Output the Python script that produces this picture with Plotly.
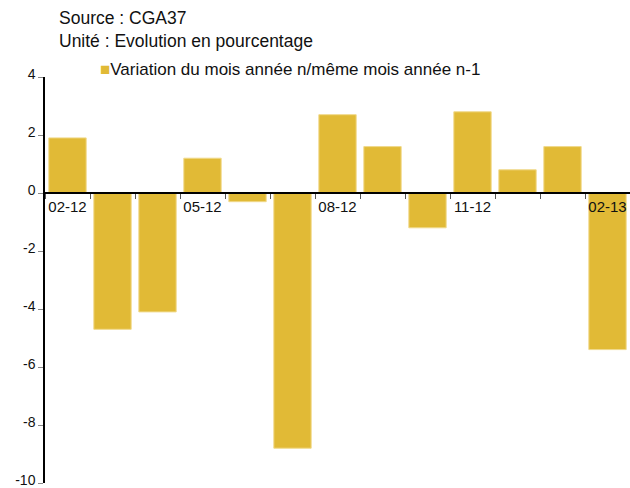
import plotly.graph_objects as go

# Data
months = ['02-12', '03-12', '04-12', '05-12', '06-12', '07-12', '08-12',
          '09-12', '10-12', '11-12', '12-12', '01-13', '02-13']
variation = [1.9, -4.7, -4.1, 1.2, -0.3, -8.8, 2.7, 1.6, -1.2, 2.8, 0.8, 1.6, -5.4]
shown_labels = ['02-12', '05-12', '08-12', '11-12', '02-13']
y_ticks = [-10, -8, -6, -4, -2, 0, 2, 4]
series_name = 'Variation du mois année n/même mois année n-1'

bar_color = '#E1BA36'
font_family = 'Liberation Sans, Arial, sans-serif'

fig = go.Figure(go.Bar(
    x=months,
    y=variation,
    name=series_name,
    marker=dict(color=bar_color, line=dict(color='#F0D98A', width=1)),
    showlegend=False,
))

fig.update_layout(
    width=630,
    height=488,
    margin=dict(l=45, r=0, t=77, b=5, autoexpand=False),
    paper_bgcolor='white',
    plot_bgcolor='white',
    bargap=0.17,
    font=dict(family=font_family, size=15, color='#111111'),
    xaxis=dict(
        type='category',
        tickmode='array',
        tickvals=months,
        ticktext=[m if m in shown_labels else '' for m in months],
        tickson='boundaries',
        tickangle=0,
        ticks='outside',
        ticklen=5,
        tickcolor='#555555',
        showline=True,
        linecolor='black',
        linewidth=1.5,
        showgrid=False,
        anchor='free',
        position=10 / 14,
        automargin=False,
        ticklabeloverflow='allow',
        tickfont=dict(size=15),
    ),
    yaxis=dict(
        range=[-10, 4],
        tickmode='array',
        tickvals=y_ticks,
        ticktext=[str(v) for v in y_ticks],
        showgrid=False,
        zeroline=False,
        showline=True,
        linecolor='black',
        linewidth=1.5,
        ticks='outside',
        ticklen=5,
        tickcolor='#888888',
        automargin=False,
        ticklabeloverflow='allow',
        ticklabelshift=-3,
        tickfont=dict(size=14),
    ),
    annotations=[
        dict(text='Source : CGA37', xref='paper', yref='paper',
             x=0.02, y=1.0, yshift=59, xanchor='left', yanchor='middle',
             showarrow=False, font=dict(size=17.5)),
        dict(text='Unité : Evolution en pourcentage', xref='paper', yref='paper',
             x=0.02, y=1.0, yshift=36, xanchor='left', yanchor='middle',
             showarrow=False, font=dict(size=17.5)),
        dict(text=f'<span style="color:{bar_color}">■</span>{series_name}',
             xref='paper', yref='paper',
             x=0.09, y=1.0, yshift=8, xanchor='left', yanchor='middle',
             showarrow=False, font=dict(size=17)),
    ],
)

# remove the default page margin so the figure sits at the window's corner
fig.write_html('out.html', config={'displayModeBar': False},
               post_script="document.body.style.margin='0';")
